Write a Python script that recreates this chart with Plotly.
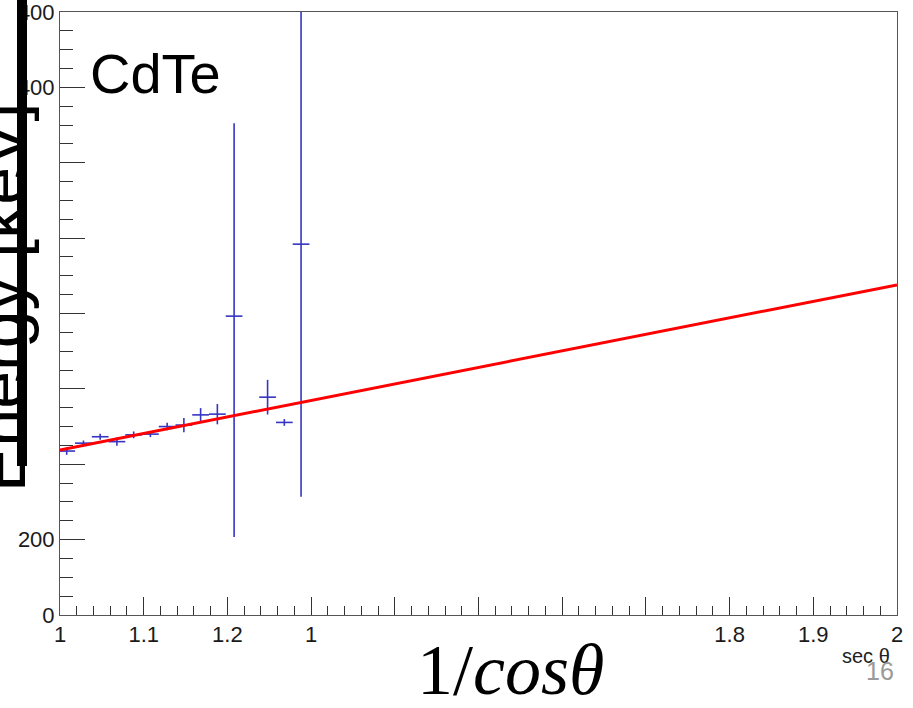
import plotly.graph_objects as go

# ---- data ----
sec_theta = [1.008, 1.028, 1.048, 1.068, 1.088, 1.108, 1.128, 1.148, 1.168, 1.188,
             1.208, 1.248, 1.268, 1.288]
energy = [435, 456, 473, 460, 478, 480, 500, 504, 531, 533, 793, 578, 511, 984]
err_up = [10, 7, 8, 11, 9, 8, 10, 19, 18, 27, 512, 46, 9, 670]
err_dn = [10, 7, 8, 11, 9, 8, 10, 19, 18, 27, 586, 46, 9, 670]
x_half_width = [0.01] * len(sec_theta)

fit_p0 = 0.0
fit_p1 = 438.0
fit_x = [1.0, 2.0]
fit_y = [fit_p0 + fit_p1 * v for v in fit_x]

x_tickvals = [1.0, 1.1, 1.2, 1.3, 1.4, 1.5, 1.6, 1.7, 1.8, 1.9, 2.0]
x_ticktext = ["1", "1.1", "1.2", "1", "", "", "", "", "1.8", "1.9", "2"]
y_tickvals = [0, 200, 400, 600, 800, 1000, 1200, 1400, 1600]
y_ticktext = ["0", "200", "", "", "", "", "", "400", "400"]

W, H = 913, 708
L, R, T, B = 60, 16, 12, 93
PW, PH = W - L - R, H - T - B


def px(xp):
    return (xp - L) / PW


def py(yp):
    return (H - B - yp) / PH


blue = "#3535c2"
fig = go.Figure()
fig.add_trace(go.Scatter(
    x=sec_theta, y=energy, mode="markers",
    marker=dict(size=1, color=blue, opacity=0),
    error_y=dict(type="data", symmetric=False, array=err_up, arrayminus=err_dn,
                 color=blue, thickness=1.6, width=0),
    error_x=dict(type="data", array=x_half_width, color=blue, thickness=1.6, width=0),
    showlegend=False, cliponaxis=True,
))
fig.add_trace(go.Scatter(
    x=fit_x, y=fit_y, mode="lines", line=dict(color="#ff0000", width=3),
    showlegend=False,
))

tickfont = dict(family="Liberation Sans, Arial, sans-serif", size=22, color="#1a1a1a")
fig.update_xaxes(
    range=[1, 2], showgrid=False, zeroline=False, showline=True, linecolor="#555",
    linewidth=1, mirror=True, ticks="inside", ticklen=18, tickcolor="#333",
    tickvals=x_tickvals, ticktext=x_ticktext, tickfont=tickfont, automargin=False,
    ticklabeloverflow="allow",
    minor=dict(ticks="inside", ticklen=9, dtick=0.02, tickcolor="#333", showgrid=False),
)
fig.update_yaxes(
    range=[0, 1600], showgrid=False, zeroline=False, showline=True, linecolor="#555",
    linewidth=1, mirror=True, ticks="inside", ticklen=25, tickcolor="#333",
    tickvals=y_tickvals, ticktext=y_ticktext, tickfont=tickfont, automargin=False,
    ticklabeloverflow="allow",
    minor=dict(ticks="inside", ticklen=13, dtick=50, tickcolor="#333", showgrid=False),
)

C = dict(xanchor="center", yanchor="middle", xref="paper", yref="paper", showarrow=False)
annotations = [
    dict(text="CdTe", x=px(155), y=py(73),
         font=dict(family="Liberation Sans, Arial", size=56, color="black"), **C),
    dict(text="1/<i>cosθ</i>", x=px(510), y=py(670),
         font=dict(family="Liberation Serif, serif", size=72, color="black"), **C),
    dict(text="sec θ", x=px(866), y=py(656),
         font=dict(family="Liberation Sans, Arial", size=20, color="#222"), **C),
    dict(text="16", x=px(880), y=py(671),
         font=dict(family="Liberation Sans, Arial", size=25, color="#9a9a9a"), **C),
    dict(text="Energy [keV]", x=px(1), y=py(298), textangle=-90,
         font=dict(family="Liberation Sans, Arial", size=68, color="black"), **C),
]

shapes = [
    dict(type="rect", xref="paper", yref="paper", x0=px(17), x1=px(27),
         y0=py(466), y1=py(0), fillcolor="black", line=dict(width=0), layer="above"),
]

fig.update_layout(
    width=W, height=H, margin=dict(l=L, r=R, t=T, b=B, autoexpand=False),
    paper_bgcolor="white", plot_bgcolor="white",
    annotations=annotations, shapes=shapes,
)
fig.write_html("out.html")
